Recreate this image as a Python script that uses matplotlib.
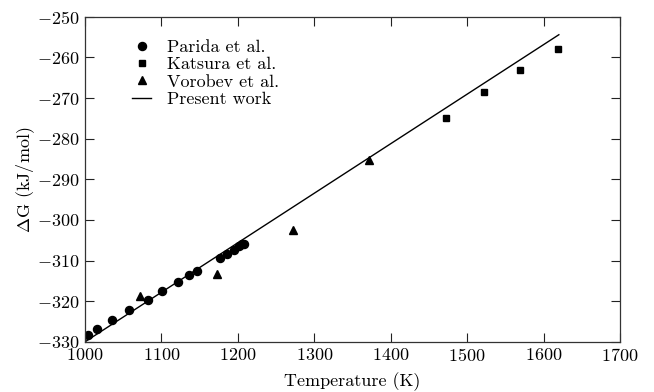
import matplotlib
matplotlib.use("Agg")
import matplotlib.pyplot as plt

plt.rcParams.update({
    "font.family": "serif",
    "font.serif": ["cmr10"],
    "mathtext.fontset": "cm",
    "axes.formatter.use_mathtext": True,
    "axes.unicode_minus": True,
    "font.size": 13,
})

# Parida et al.
parida_T = [1003.4, 1015.7, 1035.8, 1058.0, 1082.9, 1100.7, 1121.2, 1136.4,
            1146.5, 1176.6, 1185.8, 1195.0, 1201.9, 1205.4, 1208.4]
parida_G = [-328.3, -326.8, -324.6, -322.2, -319.6, -317.5, -315.2, -313.6,
            -312.5, -309.3, -308.3, -307.3, -306.5, -306.0, -305.8]

# Katsura et al.
katsura_T = [1472.3, 1522.0, 1569.0, 1619.3]
katsura_G = [-274.8, -268.4, -263.1, -257.8]

# Vorobev et al.
vorobev_T = [1072.4, 1173.0, 1272.5, 1372.0]
vorobev_G = [-318.7, -313.4, -302.4, -285.3]

# Present work
model_T = [1000.0, 1620.0]
model_G = [-330.0, -254.4]

xticks = [1000, 1100, 1200, 1300, 1400, 1500, 1600, 1700]
yticks = [-330, -320, -310, -300, -290, -280, -270, -260, -250]

fig = plt.figure(figsize=(6.54, 3.92), dpi=100)
ax = fig.add_axes([0.130, 0.128, 0.818, 0.829])

ax.plot(parida_T, parida_G, "o", color="black", ms=5.8, label="Parida et al.")
ax.plot(katsura_T, katsura_G, "s", color="black", ms=4.4, label="Katsura et al.")
ax.plot(vorobev_T, vorobev_G, "^", color="black", ms=5.6, label="Vorobev et al.")
ax.plot(model_T, model_G, "-", color="black", lw=1.0, label="Present work")

ax.set_xlim(1000, 1700)
ax.set_ylim(-330, -250)
ax.set_xticks(xticks)
ax.set_yticks(yticks)
ax.tick_params(direction="in", length=6.5, width=0.8, top=True, right=True,
               labelsize=13, pad=4, colors="#222222", labelcolor="black")
for s in ax.spines.values():
    s.set_linewidth(0.9)
    s.set_color("#333333")

ax.set_xlabel("Temperature (K)", fontsize=13, labelpad=5.5)
ax.set_ylabel(r"$\Delta$G (kJ/mol)", fontsize=13, labelpad=0)

ax.legend(loc="upper left", frameon=False, fontsize=13, handlelength=1.05,
          labelspacing=0.1, borderaxespad=0.3, bbox_to_anchor=(0.065, 0.97),
          handletextpad=0.85)

fig.savefig("out.png", dpi=100)
